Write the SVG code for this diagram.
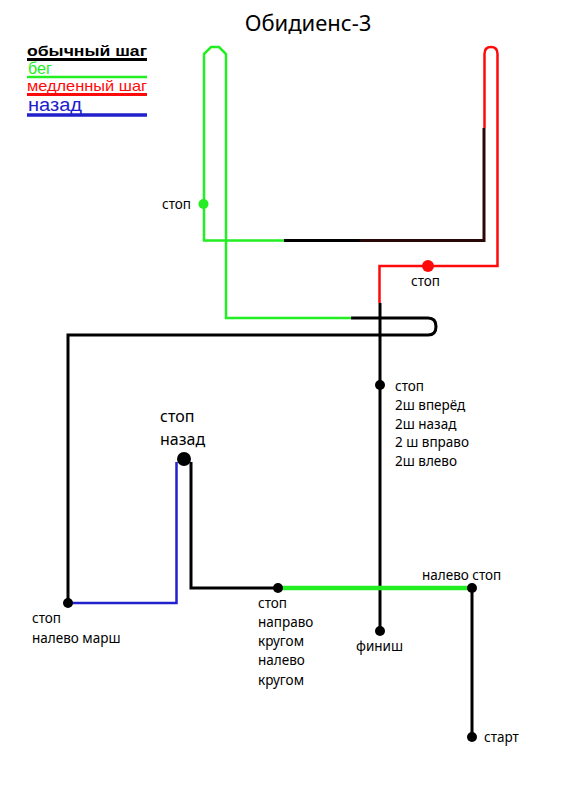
<svg xmlns="http://www.w3.org/2000/svg" width="566" height="800" viewBox="0 0 566 800">
<style>
text{font-family:"Noto Sans","Open Sans","Liberation Sans",sans-serif;fill:#000}
.leg{font-family:"Liberation Sans","Noto Sans",sans-serif;font-size:15px}
.l{fill:none;stroke-linejoin:miter}
.k{stroke:#000;stroke-width:3}
.g{stroke:#22ee22;stroke-width:2.5}
.r{stroke:#ff0a0a;stroke-width:2.5}
.b{stroke:#2020cc;stroke-width:2.5}
.lab{font-size:13.5px}
</style>
<rect width="566" height="800" fill="#fff"/>
<text x="308" y="31" font-size="22" text-anchor="middle">Обидиенс-3</text>
<g id="legend">
<text class="leg" x="27" y="56" font-weight="bold" textLength="120" lengthAdjust="spacingAndGlyphs">обычный шаг</text>
<line x1="27" y1="59.5" x2="147" y2="59.5" stroke="#000" stroke-width="3"/>
<text class="leg" x="28" y="74" style="fill:#22ee22;font-size:16px">бег</text>
<line x1="27" y1="77" x2="147" y2="77" stroke="#22ee22" stroke-width="2.5"/>
<text class="leg" x="27" y="91" style="fill:#ff0a0a" textLength="120" lengthAdjust="spacingAndGlyphs">медленный шаг</text>
<line x1="27" y1="94.5" x2="147" y2="94.5" stroke="#ff0a0a" stroke-width="3"/>
<text class="leg" x="28" y="111" style="fill:#2020cc;font-size:18px" textLength="54" lengthAdjust="spacingAndGlyphs">назад</text>
<line x1="27" y1="115" x2="147" y2="115" stroke="#2020cc" stroke-width="3.5"/>
</g>
<g id="connectors">
<path class="l g" d="M284 240.5 H204 V54 L211 47 H219 L226 54 V318 H351"/>
<path class="l k" d="M284 240.5 H360"/>
<path class="l" stroke="#2a0808" stroke-width="3" d="M360 240.5 H484 V128"/>
<path class="l r" d="M484.5 128 V54 Q484.5 47 491 47 Q497.5 47 497.5 54 V266 H379.5 V303"/>
<path class="l k" d="M351 318 H428 Q436 318 436 326.5 Q436 335 428 335 H68 V603"/>
<path class="l k" d="M380 303 V631"/>
<path class="l b" d="M68 603 H176.5 V462"/>
<path class="l k" d="M191 462 V588 H278"/>
<path class="l" stroke="#22ee22" stroke-width="4.5" d="M278 588 H472"/>
<path class="l k" d="M472 588 V737"/>
</g>
<g id="n-stop-green"><circle cx="203.5" cy="204" r="5" fill="#22ee22"/><text class="lab" x="162" y="208.5">стоп</text></g>
<g id="n-stop-red"><circle cx="428" cy="266" r="6" fill="#ff0a0a"/><text class="lab" x="411" y="286">стоп</text></g>
<g id="n-stop-center"><circle cx="380" cy="385" r="5" fill="#000"/>
<text class="lab" x="395" y="391">стоп</text>
<text class="lab" x="395" y="410">2ш вперёд</text>
<text class="lab" x="395" y="429">2ш назад</text>
<text class="lab" x="395" y="447">2 ш вправо</text>
<text class="lab" x="395" y="466">2ш влево</text></g>
<g id="n-stop-back"><circle cx="184" cy="459" r="7" fill="#000"/>
<text x="160" y="422" font-size="16">стоп</text>
<text x="160" y="445" font-size="16">назад</text></g>
<g id="n-stop-left"><circle cx="68" cy="603" r="5" fill="#000"/>
<text class="lab" x="32" y="623">стоп</text>
<text class="lab" x="32" y="643">налево марш</text></g>
<g id="n-stop-turn"><circle cx="278" cy="588" r="5" fill="#000"/>
<text class="lab" x="258" y="608">стоп</text>
<text class="lab" x="258" y="627">направо</text>
<text class="lab" x="258" y="646">кругом</text>
<text class="lab" x="258" y="665">налево</text>
<text class="lab" x="258" y="685">кругом</text></g>
<g id="n-left-stop"><circle cx="472" cy="588" r="5" fill="#000"/><text class="lab" x="422" y="580">налево стоп</text></g>
<g id="n-finish"><circle cx="380" cy="631" r="5" fill="#000"/><text class="lab" x="356" y="651">финиш</text></g>
<g id="n-start"><circle cx="472" cy="737" r="5" fill="#000"/><text class="lab" x="484" y="742">старт</text></g>
</svg>
